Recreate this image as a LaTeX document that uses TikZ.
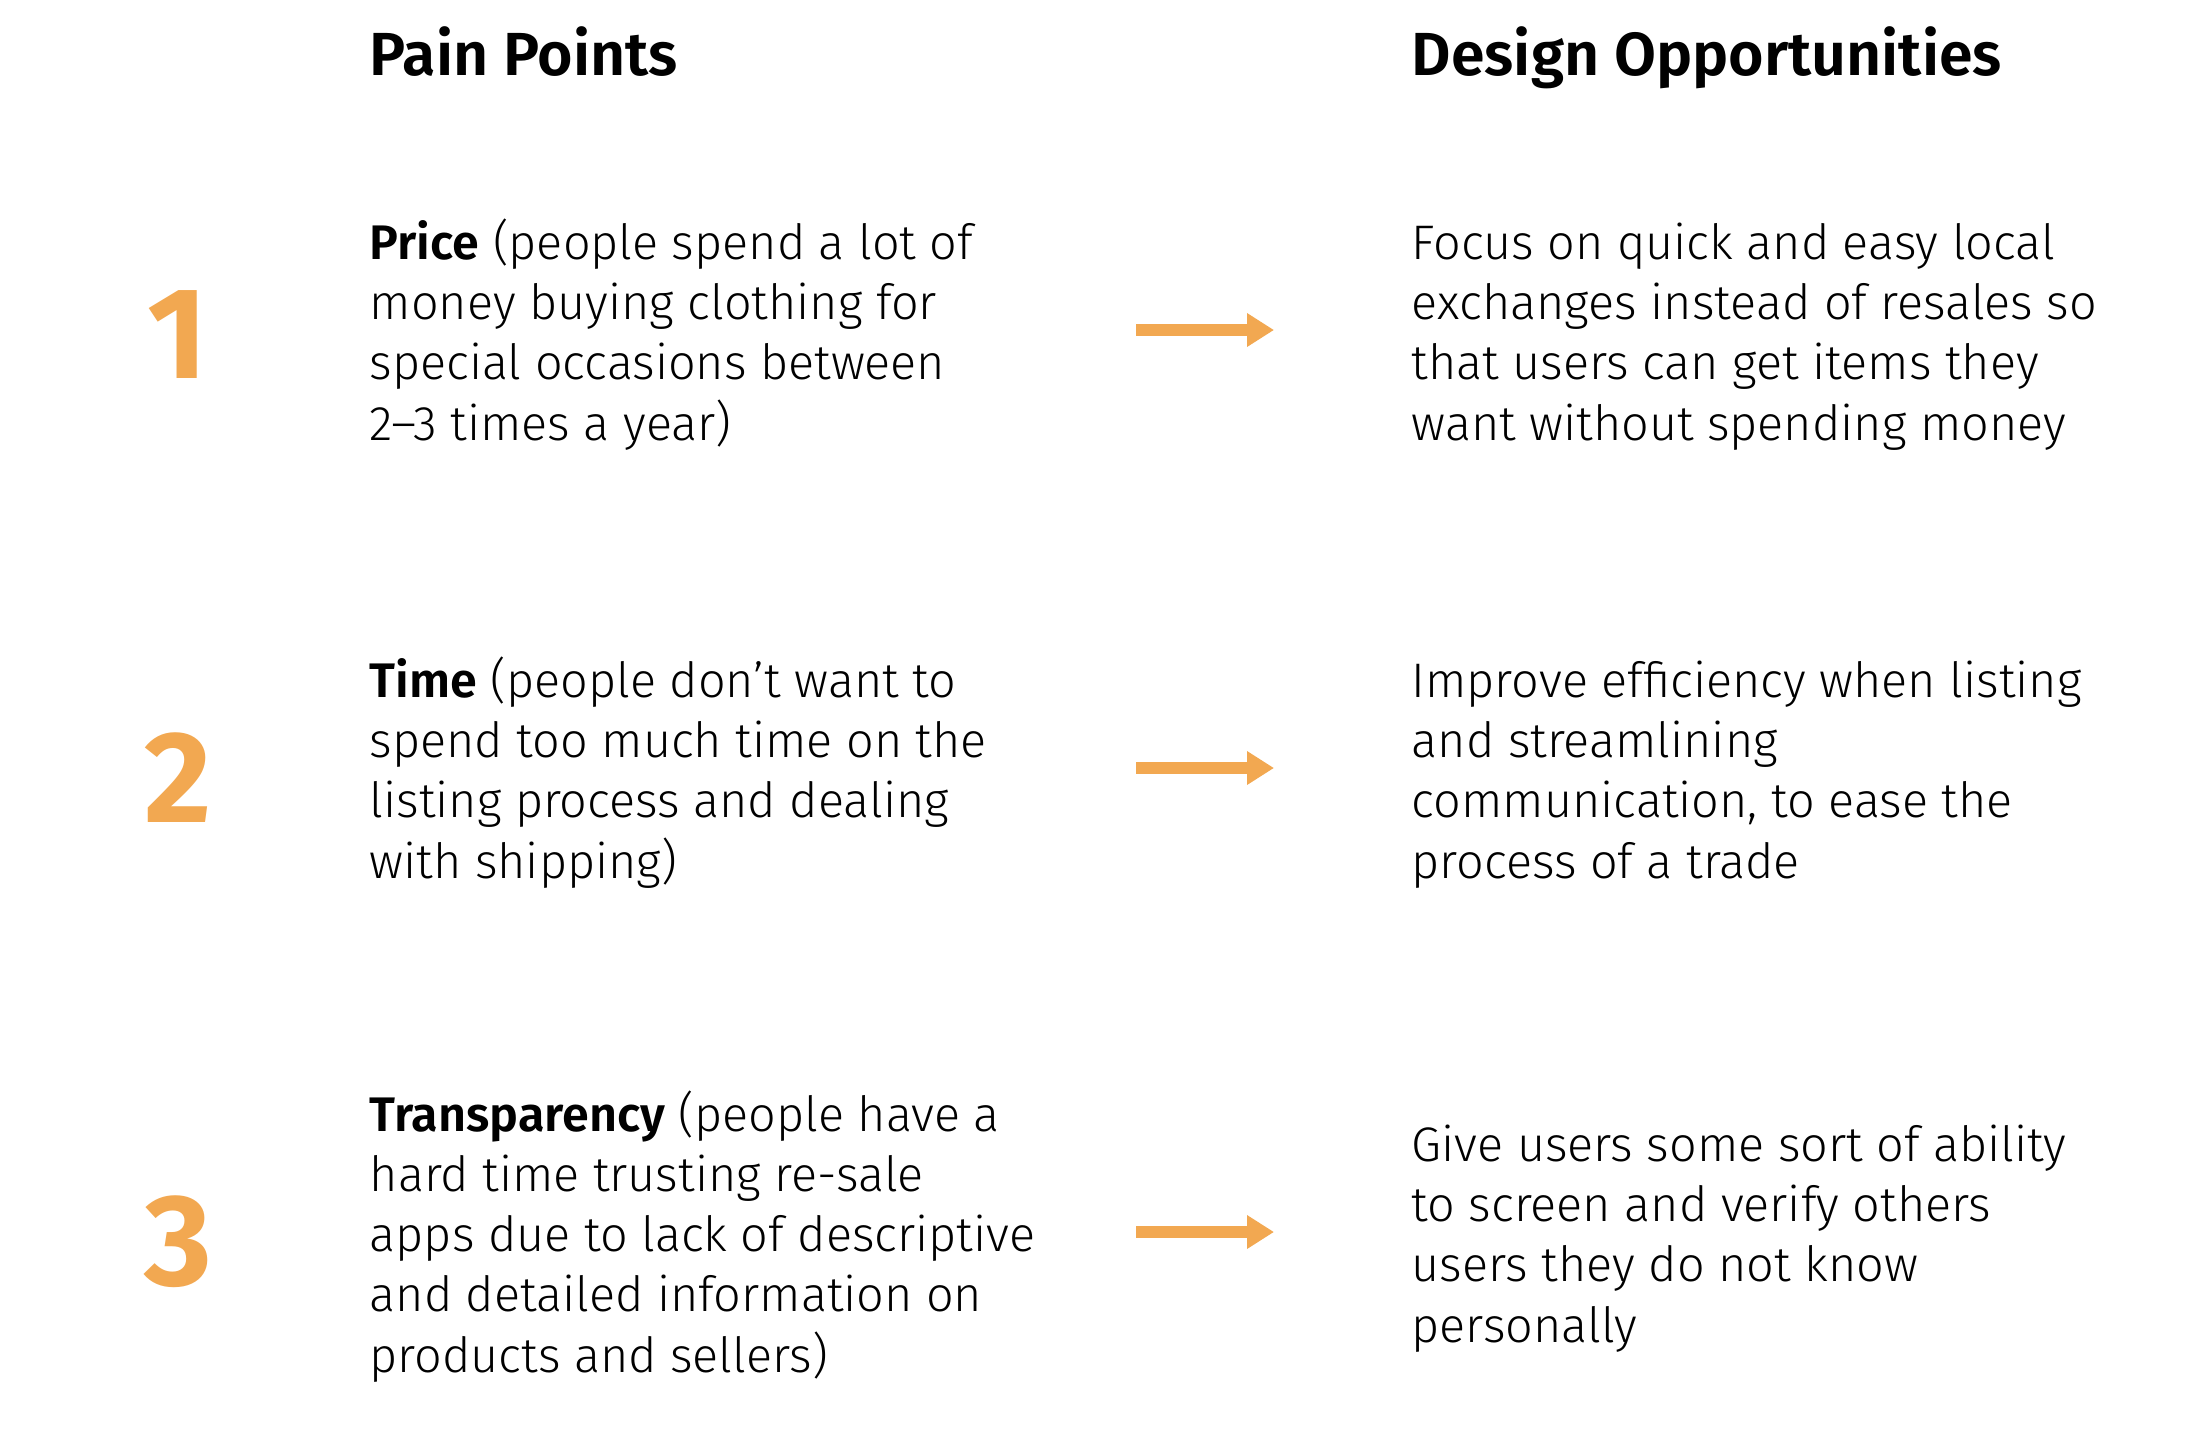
\documentclass[tikz,border=0pt]{standalone}
\usepackage{fontspec}
\setmainfont{Fira Sans}[UprightFont=* Light, BoldFont=* SemiBold]
\newfontfamily\numfont{Fira Sans}
\usetikzlibrary{arrows.meta}
\definecolor{accent}{HTML}{F2A851}
\tikzset{
  head/.style={anchor=base west, inner sep=0pt, font=\fontsize{17.3}{21}\selectfont\bfseries},
  % multi-line nodes: base is the last line
  body/.style={anchor=base west, align=left, inner sep=0pt, font=\fontsize{13.8}{17.1}\selectfont},
  num/.style={text=accent, font=\numfont\fontsize{37}{42}\selectfont\bfseries},
  flow/.style={accent, line width=0.12cm, -{Triangle[length=0.27cm,width=0.32cm]}}
}
\begin{document}
\begin{tikzpicture}[x=0.01cm, y=-0.01cm]
\useasboundingbox (0,0) rectangle (2206,1442);

  % Column headings
  \node[head] (painhead) at (369,75) {Pain Points};
  \node[head] (opphead) at (1411,75) {Design Opportunities};

  % Numbers
  \foreach \i/\y in {1/335, 2/778, 3/1242} {
    \node[num] (n\i) at (178,\y) {\i};
  }

  % Pain points
  \node[body] (p1) at (369,440) {\textbf{Price} (people spend a lot of\\money buying clothing for\\special occasions between\\2--3 times a year)};
  \node[body] (p2) at (369,878) {\textbf{Time} (people don’t want to\\spend too much time on the\\listing process and dealing\\with shipping)};
  \node[body] (p3) at (369,1372) {\textbf{Transparency} (people have a\\hard time trusting re-sale\\apps due to lack of descriptive\\and detailed information on\\products and sellers)};

  % Design opportunities
  \node[body] (o1) at (1411,440) {Focus on quick and easy local\\exchanges instead of resales so\\that users can get items they\\want without spending money};
  \node[body] (o2) at (1411,878) {Improve efficiency when listing\\and streamlining\\communication, to ease the\\process of a trade};
  \node[body] (o3) at (1411,1342) {Give users some sort of ability\\to screen and verify others\\users they do not know\\personally};

  % Arrows
  \foreach \i/\y in {1/330, 2/768, 3/1232} {
    \coordinate (s\i) at (1136,\y);
    \coordinate (e\i) at (1274,\y);
    \draw[flow] (s\i) -- (e\i);
  }
\end{tikzpicture}
\end{document}
